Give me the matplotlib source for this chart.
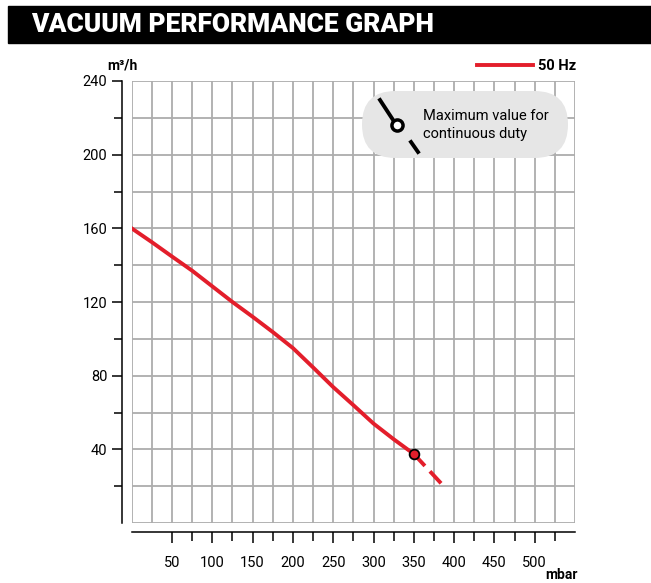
import numpy as np
import matplotlib
matplotlib.use("Agg")
import matplotlib.pyplot as plt
from matplotlib.patches import Rectangle, FancyBboxPatch
from matplotlib.lines import Line2D
from matplotlib.transforms import IdentityTransform

plt.rcParams['font.family'] = ['Roboto', 'DejaVu Sans']

# curve (mbar, m3/h)
pressure_solid = [0, 25, 50, 75, 100, 125, 150, 175, 200, 225, 250, 275, 300, 325, 350]
flow_solid = [160, 152.5, 144.7, 137, 128.5, 120, 112, 103.7, 95, 84.5, 73.8, 64, 54, 45.5, 37.5]
pressure_dash = [350, 385]
flow_dash = [37.5, 21]
max_point = (350, 37.5)

x_labels = [50, 100, 150, 200, 250, 300, 350, 400, 450, 500]
x_minor = [75, 125, 175, 225, 275, 325, 375, 425, 475, 525]
y_labels = [40, 80, 120, 160, 200, 240]
y_minor = [20, 60, 100, 140, 180, 220]

RED = '#e31e2b'
GRID = '#adadad'

W, H = 651, 583
fig = plt.figure(figsize=(W / 100, H / 100), dpi=100)


def fx(px):
    return px / W


def fy(py):
    return 1 - py / H


# title bar
fig.patches.append(Rectangle((fx(8), fy(43)), 1 - fx(8), (43 - 6) / H,
                             transform=fig.transFigure, color='black', zorder=0))
fig.text(fx(31), fy(25.5), 'VACUUM PERFORMANCE GRAPH', color='white',
         fontsize=19, fontweight='black', family='Roboto', va='center', ha='left')

# plot area
left, right, top, bottom = 131.7, 575, 81, 523
ax = fig.add_axes([fx(left), fy(bottom), (right - left) / W, (bottom - top) / H])
ax.set_xlim(0, 550)
ax.set_ylim(0, 240)
ax.patch.set_visible(False)

for gx in np.arange(0, 551, 25):
    ax.axvline(gx, color=GRID, lw=1.3, zorder=1)
for gy in np.arange(0, 241, 20):
    ax.axhline(gy, color=GRID, lw=1.3, zorder=1)

for s in ['top', 'right']:
    ax.spines[s].set_visible(False)
ax.spines['left'].set_position(('outward', 7))
ax.spines['bottom'].set_position(('outward', 6.5))
ax.spines['left'].set_linewidth(1.1)
ax.spines['bottom'].set_linewidth(1.1)

ax.set_xticks(x_labels)
ax.set_xticklabels([str(v) for v in x_labels])
ax.set_xticks(x_minor, minor=True)
ax.set_yticks(y_labels)
ax.set_yticklabels([str(v) for v in y_labels])
ax.set_yticks(y_minor, minor=True)
ax.tick_params(axis='x', which='major', length=8, width=1.1, pad=9, labelsize=10.5)
ax.tick_params(axis='x', which='minor', length=6.5, width=1.1)
ax.tick_params(axis='y', which='major', length=7.5, width=1.1, pad=3, labelsize=10.5)
ax.tick_params(axis='y', which='minor', length=5.5, width=1.1)

# curve
ax.plot(pressure_solid, flow_solid, color=RED, lw=2.8, solid_joinstyle='round', zorder=3)
ax.plot(pressure_dash, flow_dash, color=RED, lw=2.8, dashes=(4.2, 1.9), zorder=3)
ax.plot(*max_point, 'o', ms=7, mfc=RED, mec='black', mew=1.3, zorder=4)

# axis titles
fig.text(fx(107), fy(66), 'm³/h', fontsize=10, fontweight='bold', va='center', ha='left')
fig.text(fx(578), fy(575), 'mbar', fontsize=10, fontweight='bold', va='center', ha='right')

# legend
fig.add_artist(Line2D([fx(477), fx(533)], [fy(65), fy(65)], color=RED, lw=2.8,
                      transform=fig.transFigure))
fig.text(fx(538), fy(66), '50 Hz', fontsize=10.5, fontweight='bold', va='center', ha='left')

# note box, drawn in pixel coordinates
bx0, bx1, by0, by1 = 362, 568, 91, 158
r = (by1 - by0) / 2
fig.patches.append(FancyBboxPatch((bx0 + r, H - by1 + r), bx1 - bx0 - 2 * r, 0,
                                  boxstyle='round,pad=%f' % r,
                                  transform=IdentityTransform(), fc='#e6e6e6', ec='none',
                                  zorder=2))
fig.add_artist(Line2D([fx(380), fx(397)], [fy(100), fy(126)], color='black', lw=2.8,
                      transform=fig.transFigure, zorder=5))
fig.add_artist(Line2D([fx(411), fx(418)], [fy(142), fy(152)], color='black', lw=2.8,
                      transform=fig.transFigure, zorder=5))
fig.add_artist(Line2D([fx(397)], [fy(125)], marker='o', ms=8, mfc='white', mec='black',
                      mew=2.5, transform=fig.transFigure, zorder=6))
fig.text(fx(423), fy(125), 'Maximum value for\ncontinuous duty', fontsize=10.5,
         va='center', ha='left', linespacing=1.35, zorder=7)

fig.savefig('out.png', dpi=100)
